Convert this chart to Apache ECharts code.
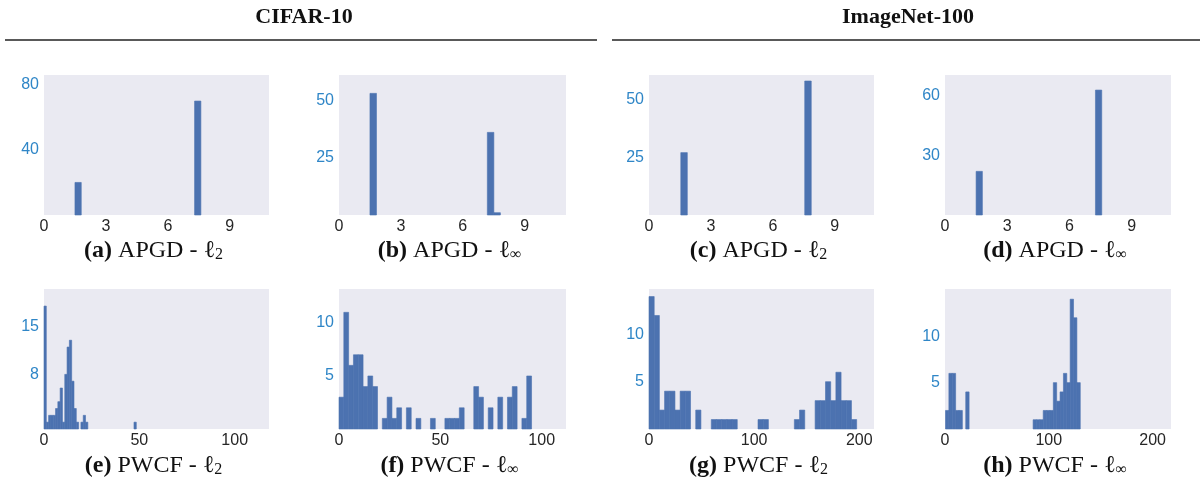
<!DOCTYPE html>
<html>
<head>
<meta charset="utf-8">
<title>APGD / PWCF histograms</title>
<script src="https://cdn.jsdelivr.net/npm/echarts@6/dist/echarts.min.js"></script>
<style>
  html, body { margin: 0; padding: 0; background: #fff; }
  #main { width: 1204px; height: 482px; }
</style>
</head>
<body>
<div id="main"></div>
<script>
// histogram bins: [lo, hi] of the binned range, and the count in each equal-width bin
var aRange = [1.5, 7.6];
var aCounts = [20, 0, 0, 0, 0, 0, 0, 0, 0, 0, 0, 0, 0, 0, 0, 0, 0, 0, 0, 70];
var bRange = [1.5, 7.82];
var bCounts = [53, 0, 0, 0, 0, 0, 0, 0, 0, 0, 0, 0, 0, 0, 0, 0, 0, 0, 36, 1];
var cRange = [1.54, 7.86];
var cCounts = [27, 0, 0, 0, 0, 0, 0, 0, 0, 0, 0, 0, 0, 0, 0, 0, 0, 0, 0, 58];
var dRange = [1.5, 7.56];
var dCounts = [22, 0, 0, 0, 0, 0, 0, 0, 0, 0, 0, 0, 0, 0, 0, 0, 0, 0, 0, 63];

var eRange = [0, 48.4];
var eCounts = [18, 1, 2, 2, 2, 3, 4, 6, 1, 8, 12, 13, 7, 3, 1, 0, 1, 2, 1, 0,
               0, 0, 0, 0, 0, 0, 0, 0, 0, 0, 0, 0, 0, 0, 0, 0, 0, 0, 0, 1];
var fRange = [0, 95];
var fCounts = [3, 11, 6, 7, 7, 4, 5, 4, 0, 1, 3, 1, 2, 0, 2, 0, 1, 0, 0, 1,
               0, 0, 1, 1, 1, 2, 0, 0, 4, 3, 0, 2, 0, 3, 0, 3, 4, 0, 1, 5];
var gRange = [0, 197.5];
var gCounts = [14, 12, 2, 4, 4, 2, 4, 4, 0, 2, 0, 0, 1, 1, 1, 1, 1, 0, 0, 0,
               0, 1, 1, 0, 0, 0, 0, 0, 1, 2, 0, 0, 3, 3, 5, 3, 6, 3, 3, 1];
var hRange = [0.5, 130.3];
var hCounts = [2, 6, 6, 2, 2, 0, 4, 0, 0, 0, 0, 0, 0, 0, 0, 0, 0, 0, 0, 0,
               0, 0, 0, 0, 0, 0, 1, 1, 1, 2, 2, 2, 5, 3, 4, 6, 5, 14, 12, 5];

// axis extents and tick labels
var xMaxes = [10.9, 11, 10.9, 10.9, 118, 112, 214, 217.7];
var yMaxes = [86, 61, 60.6, 70.6, 20.5, 13.2, 14.8, 15.1];
var xTickLabels = [[0, 3, 6, 9], [0, 3, 6, 9], [0, 3, 6, 9], [0, 3, 6, 9],
                   [0, 50, 100], [0, 50, 100], [0, 100, 200], [0, 100, 200]];
var yTickLabels = [[40, 80], [25, 50], [25, 50], [30, 60],
                   [8, 15], [5, 10], [5, 10], [5, 10]];
var captions = [
  '{b|(a)} APGD - ℓ{s|2}', '{b|(b)} APGD - ℓ{s|∞}',
  '{b|(c)} APGD - ℓ{s|2}', '{b|(d)} APGD - ℓ{s|∞}',
  '{b|(e)} PWCF - ℓ{s|2}', '{b|(f)} PWCF - ℓ{s|∞}',
  '{b|(g)} PWCF - ℓ{s|2}', '{b|(h)} PWCF - ℓ{s|∞}'
];
var headers = ['CIFAR-10', 'ImageNet-100'];

var ranges = [aRange, bRange, cRange, dRange, eRange, fRange, gRange, hRange];
var counts = [aCounts, bCounts, cCounts, dCounts, eCounts, fCounts, gCounts, hCounts];

var BAR = '#4c72b0';
var colLeft = [44, 339, 649, 945];
var colWidth = [225, 227, 225, 226];
var rowTop = [75, 289];
var plotH = 140;

function binData(range, cnt) {
  var w = (range[1] - range[0]) / cnt.length;
  var out = [];
  for (var i = 0; i < cnt.length; i++) {
    if (cnt[i] > 0) out.push([range[0] + i * w, range[0] + (i + 1) * w, cnt[i]]);
  }
  return out;
}

function renderBin(params, api) {
  var p0 = api.coord([api.value(0), api.value(2)]);
  var p1 = api.coord([api.value(1), 0]);
  return {
    type: 'rect',
    shape: { x: p0[0], y: p0[1], width: p1[0] - p0[0], height: p1[1] - p0[1] },
    style: { fill: BAR, stroke: BAR, lineWidth: 0.6 }
  };
}

var grids = [], xAxes = [], yAxes = [], series = [], titles = [];
var rich = {
  b: { fontFamily: 'Liberation Serif', fontWeight: 'bold', fontSize: 24, color: '#111' },
  s: { fontFamily: 'Liberation Serif', fontSize: 16, color: '#111', verticalAlign: 'bottom' }
};

for (var k = 0; k < 8; k++) {
  var col = k % 4, row = Math.floor(k / 4);
  grids.push({
    left: colLeft[col], top: rowTop[row], width: colWidth[col], height: plotH,
    show: true, backgroundColor: '#eaeaf2', borderWidth: 0
  });
  xAxes.push({
    type: 'value', gridIndex: k, min: 0, max: xMaxes[k],
    axisLine: { show: false }, axisTick: { show: false }, splitLine: { show: false },
    axisLabel: {
      customValues: xTickLabels[k], margin: 4,
      fontFamily: 'Liberation Sans', fontSize: 16, color: '#262626'
    }
  });
  yAxes.push({
    type: 'value', gridIndex: k, min: 0, max: yMaxes[k],
    axisLine: { show: false }, axisTick: { show: false }, splitLine: { show: false },
    axisLabel: {
      customValues: yTickLabels[k], margin: 5,
      fontFamily: 'Liberation Sans', fontSize: 16, color: '#2f86c7'
    }
  });
  series.push({
    type: 'custom', xAxisIndex: k, yAxisIndex: k,
    renderItem: renderBin,
    encode: { x: [0, 1], y: 2 },
    data: binData(ranges[k], counts[k]),
    silent: true
  });
  titles.push({
    text: captions[k],
    left: colLeft[col] + colWidth[col] / 2 - 3,
    top: row === 0 ? 239 : 454,
    textAlign: 'center',
    padding: 0,
    textStyle: {
      fontFamily: 'Liberation Serif', fontSize: 24, fontWeight: 'normal', color: '#111',
      rich: rich
    }
  });
}

titles.push({
  text: headers[0], left: 304, top: 6, textAlign: 'center', padding: 0,
  textStyle: { fontFamily: 'Liberation Serif', fontSize: 22, fontWeight: 'bold', color: '#111' }
});
titles.push({
  text: headers[1], left: 908, top: 6, textAlign: 'center', padding: 0,
  textStyle: { fontFamily: 'Liberation Serif', fontSize: 22, fontWeight: 'bold', color: '#111' }
});

var chart = echarts.init(document.getElementById('main'), null, { renderer: 'canvas' });
chart.setOption({
  animation: false,
  title: titles,
  grid: grids,
  xAxis: xAxes,
  yAxis: yAxes,
  series: series,
  graphic: [
    { type: 'line', shape: { x1: 5, y1: 40, x2: 597, y2: 40 }, style: { stroke: '#222', lineWidth: 1.3 } },
    { type: 'line', shape: { x1: 612, y1: 40, x2: 1200, y2: 40 }, style: { stroke: '#222', lineWidth: 1.3 } }
  ]
});
</script>
</body>
</html>
